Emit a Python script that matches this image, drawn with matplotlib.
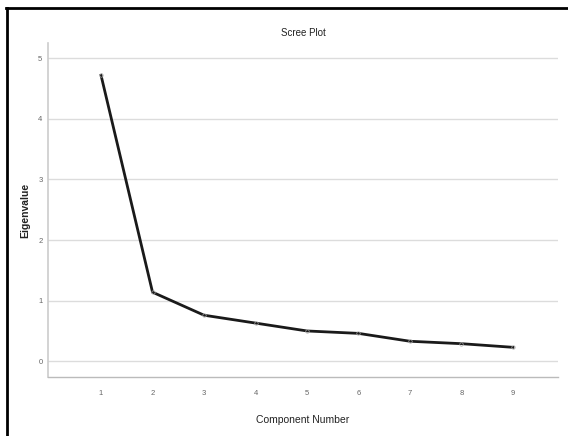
import matplotlib
matplotlib.use('Agg')
import matplotlib.pyplot as plt
from matplotlib.lines import Line2D

components = [1, 2, 3, 4, 5, 6, 7, 8, 9]
eigenvalues = [4.72, 1.14, 0.76, 0.63, 0.50, 0.46, 0.33, 0.29, 0.23]
yticks = [0, 1, 2, 3, 4, 5]

plt.rcParams['font.family'] = ['Liberation Sans', 'DejaVu Sans']

fig = plt.figure(figsize=(5.68, 4.36), dpi=100)
ax = fig.add_axes([0.0845, 0.1353, 0.8975, 0.7657])

ax.plot(components, eigenvalues, color='#1a1a1a', linewidth=2.0, solid_joinstyle='miter')
ax.plot(components, eigenvalues, linestyle='none', marker='o', markersize=2.5,
        markerfacecolor='none', markeredgecolor='#aaaaaa', markeredgewidth=0.5)

ax.set_xlim(-0.03, 9.87)
ax.set_ylim(-0.26, 5.25)
ax.set_xticks(components)
ax.set_yticks(yticks)
ax.tick_params(axis='both', labelsize=5.5, labelcolor='#666666', length=0, pad=9)
ax.tick_params(axis='y', pad=4)

ax.grid(axis='y', color='#dcdcdc', linewidth=1.0)
ax.set_axisbelow(True)
for s in ['top', 'right']:
    ax.spines[s].set_visible(False)
ax.spines['left'].set_color('#cccccc')
ax.spines['bottom'].set_color('#bbbbbb')
ax.spines['left'].set_linewidth(1.2)
ax.spines['bottom'].set_linewidth(1.0)

ax.set_title('Scree Plot', fontsize=7, color='#222222', pad=5)
ax.set_xlabel('Component Number', fontsize=7.5, color='#222222', labelpad=13)
ax.set_ylabel('Eigenvalue', fontsize=7.5, color='#222222', fontweight='bold', labelpad=6)

# outer frame (left and top edges)
fig.add_artist(Line2D([6.5 / 568, 6.5 / 568], [0, 1 - 8 / 436], transform=fig.transFigure,
                      color='black', linewidth=2.0))
fig.add_artist(Line2D([5.5 / 568, 1], [1 - 8.5 / 436, 1 - 8.5 / 436], transform=fig.transFigure,
                      color='black', linewidth=2.0))

fig.savefig('out.png', dpi=100)
